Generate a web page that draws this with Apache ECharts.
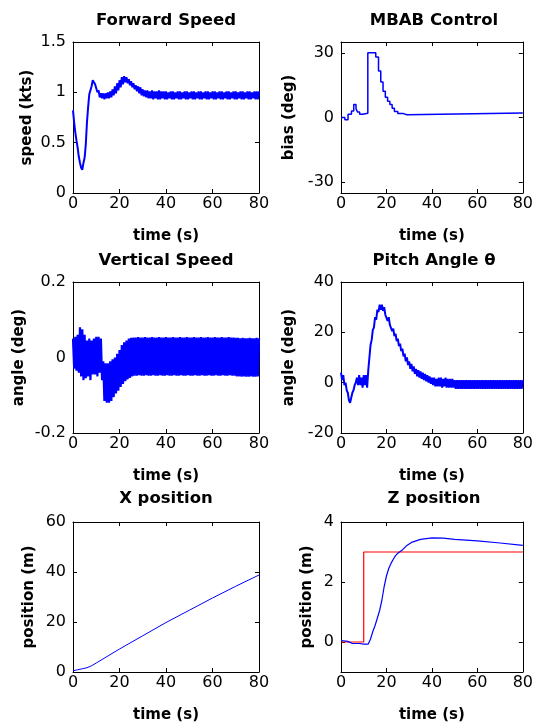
<!DOCTYPE html>
<html><head><meta charset="utf-8">
<script src="https://cdn.jsdelivr.net/npm/echarts@6/dist/echarts.min.js"></script>
<style>html,body{margin:0;padding:0;background:#fff}#c{width:536px;height:725px}</style>
</head><body><div id="c"></div>
<script>
// ---- Data ----
// Oscillating signals: "Hi" sample at t = k s, "Lo" sample at t = k + 0.5 s
const speedHi = [0.82,0.60,0.45,0.30,0.23,0.35,0.70,0.98,1.06,1.13,
 1.08,1.02,0.99,0.99,0.99,1.00,1.01,1.03,1.06,1.09,
 1.12,1.15,1.16,1.15,1.13,1.11,1.09,1.07,1.06,1.05,
 1.03,1.02,1.02,1.01,1.02,1.01,1.01,1.02,1.01,1.01,
 1.01,1.00,1.01,1.01,1.00,1.01,1.01,1.00,1.01,1.01,
 1.00,1.01,1.01,1.00,1.01,1.01,1.00,1.01,1.01,1.00,
 1.01,1.01,1.00,1.01,1.01,1.00,1.01,1.01,1.00,1.01,
 1.01,1.00,1.01,1.01,1.00,1.01,1.01,1.00,1.01,1.01,
 1.01];
const speedLo = [0.70,0.52,0.36,0.25,0.30,0.48,0.85,0.99,1.12,1.08,
 1.00,0.95,0.94,0.93,0.94,0.94,0.95,0.97,0.99,1.02,
 1.05,1.08,1.10,1.09,1.07,1.05,1.03,1.01,0.99,0.97,
 0.96,0.95,0.94,0.94,0.93,0.94,0.93,0.93,0.94,0.93,
 0.93,0.94,0.93,0.93,0.94,0.93,0.93,0.94,0.93,0.93,
 0.94,0.93,0.93,0.94,0.93,0.93,0.94,0.93,0.93,0.94,
 0.93,0.93,0.94,0.93,0.93,0.94,0.93,0.93,0.94,0.93,
 0.93,0.94,0.93,0.93,0.94,0.93,0.93,0.94,0.93,0.93];

const vertHi = [0.050,0.055,0.060,0.080,0.075,0.060,0.045,0.050,0.045,0.050,
 0.055,0.055,0.050,-0.010,-0.015,-0.015,-0.010,-0.005,0.000,0.010,
 0.020,0.033,0.040,0.045,0.050,0.052,0.053,0.053,0.054,0.053,
 0.053,0.054,0.053,0.053,0.054,0.053,0.053,0.054,0.053,0.053,
 0.054,0.053,0.053,0.054,0.053,0.053,0.054,0.053,0.053,0.054,
 0.053,0.053,0.054,0.053,0.053,0.054,0.053,0.053,0.054,0.053,
 0.053,0.054,0.053,0.053,0.054,0.053,0.053,0.054,0.053,0.053,
 0.052,0.052,0.051,0.052,0.051,0.051,0.052,0.051,0.051,0.052,
 0.051];
const vertLo = [-0.030,-0.035,-0.040,-0.050,-0.060,-0.055,-0.050,-0.060,-0.045,-0.045,
 -0.050,-0.040,-0.060,-0.115,-0.120,-0.120,-0.115,-0.105,-0.095,-0.088,
 -0.078,-0.070,-0.063,-0.058,-0.054,-0.050,-0.048,-0.048,-0.047,-0.048,
 -0.048,-0.047,-0.048,-0.048,-0.047,-0.048,-0.048,-0.047,-0.048,-0.048,
 -0.047,-0.048,-0.048,-0.047,-0.048,-0.048,-0.047,-0.048,-0.048,-0.047,
 -0.048,-0.048,-0.047,-0.048,-0.048,-0.047,-0.048,-0.048,-0.047,-0.048,
 -0.048,-0.047,-0.048,-0.048,-0.047,-0.048,-0.048,-0.047,-0.048,-0.048,
 -0.050,-0.050,-0.051,-0.050,-0.051,-0.051,-0.050,-0.051,-0.051,-0.050];

const pitchHi = [4,3,0,-4,-8,-4,-1,2,3,2,
 3,3,5,15,21,26,29,31,31,30,
 27.5,26,23.5,21.5,19.5,17.5,15.5,13.5,11.5,10,
 8.5,7.5,6.5,5.5,5,4.5,4,3.5,3,2.5,
 2,2,1.5,2,2,1.5,2,1.5,1.5,1.5,
 1,1,1,1,1,1,1,1,1,1,
 1,1,1,1,1,1,1,1,1,1,
 1,1,1,1,1,1,1,1,1,1,
 1];
const pitchLo = [1,-1,-3,-7,-6,-3,0,-1,-1,-2,
 -1,-2,10,17,22,25,28,29,28.5,27,
 24.5,23,20.5,18.5,16.5,14.5,12.5,10.5,8.5,7,
 5.5,4.5,3.5,2.5,2,1.5,1,0.5,0,-0.5,
 -1,-1.5,-1.5,-1.5,-2,-1.5,-2,-2,-2,-2,
 -2.5,-2.5,-2.5,-2.5,-2.5,-2.5,-2.5,-2.5,-2.5,-2.5,
 -2.5,-2.5,-2.5,-2.5,-2.5,-2.5,-2.5,-2.5,-2.5,-2.5,
 -2.5,-2.5,-2.5,-2.5,-2.5,-2.5,-2.5,-2.5,-2.5,-2.5];

const mbabT = [0,1.7,3.1,4.6,5.6,6.6,7.3,8.2,9.5,11.8,15.3,16.5,17.5,18.5,19.5,20.5,21.5,22.5,23.5,25,27.5,29,80];
const mbabV = [0,-1,1.5,3,6,4,2.5,1.5,2,30,28,21.5,16.5,12.2,9.4,7.5,6,4.3,2.8,1.8,1.3,2.1,2.1];

const xposT = [0,2,4,6,8,10,20,30,40,50,60,70,80];
const xposV = [0.5,0.9,1.3,1.7,2.5,3.6,9.2,14.5,19.8,24.7,29.6,34.3,38.8];

const zposT = [0,3,5,8,10,12,13,14,15,16,17,18,19,20,21,22,23,24,25,27,29,31,35,40,45,50,60,70,80];
const zposV = [0.05,0.02,-0.05,-0.05,-0.07,-0.07,0.1,0.35,0.55,0.8,1.05,1.4,1.85,2.2,2.45,2.62,2.76,2.88,2.96,3.07,3.22,3.32,3.42,3.47,3.46,3.42,3.37,3.30,3.22];
const zrefT = [0,10,10,80];
const zrefV = [0,0,3,3];

const titles = ['Forward Speed','MBAB Control','Vertical Speed','Pitch Angle \u03b8','X position','Z position'];
const yNames = ['speed (kts)','bias (deg)','angle (deg)','angle (deg)','position (m)','position (m)'];
const xName = 'time (s)';
const yMin = [0,-35,-0.2,-20,0,-1];
const yMax = [1.5,35,0.2,40,60,4];
const yTicks = [[0,0.5,1,1.5],[-30,0,30],[-0.2,0,0.2],[-20,0,20,40],[0,20,40,60],[0,2,4]];

// ---- Layout ----
const FONT = 'DejaVu Sans';
const grids = [
  {left:73, top:42, width:186, height:151},
  {left:341, top:42, width:186, height:151},
  {left:73, top:282, width:186, height:151},
  {left:341, top:282, width:186, height:151},
  {left:73, top:522, width:186, height:150},
  {left:341, top:522, width:186, height:150}
];
const titleTop = [12,12,252,252,490,490];
const yNameGap = [38,44,46,44,36,26];

function zig(hi, lo){ const out=[]; for(let k=0;k<hi.length;k++){ out.push([k, hi[k]]); if(k<lo.length) out.push([k+0.5, lo[k]]); } return out; }
function pairs(t, v){ return t.map((x,i)=>[x, v[i]]); }

const xAxes = [], yAxes = [], titleOpts = [];
grids.forEach((g, i) => {
  const line = {show:true, onZero:false, lineStyle:{color:'#000', width:1}};
  const tick = {show:true, inside:true, length:4, lineStyle:{color:'#000', width:1}};
  xAxes.push({type:'value', gridIndex:i, min:0, max:80, interval:20, position:'bottom',
    axisLine:line, axisTick:tick, splitLine:{show:false},
    axisLabel:{show:true, color:'#000', fontFamily:FONT, fontSize:16, margin:3},
    name:xName, nameLocation:'middle', nameGap:36,
    nameTextStyle:{color:'#000', fontFamily:FONT, fontWeight:'bold', fontSize:15}});
  xAxes.push({type:'value', gridIndex:i, min:0, max:80, interval:20, position:'top',
    axisLine:line, axisTick:tick, splitLine:{show:false}, axisLabel:{show:false}});
  yAxes.push({type:'value', gridIndex:i, min:yMin[i], max:yMax[i], position:'left',
    axisLine:line, axisTick:Object.assign({customValues:yTicks[i]}, tick), splitLine:{show:false},
    axisLabel:{show:true, customValues:yTicks[i], color:'#000', fontFamily:FONT, fontSize:16, margin:7},
    name:yNames[i], nameLocation:'middle', nameGap:yNameGap[i],
    nameTextStyle:{color:'#000', fontFamily:FONT, fontWeight:'bold', fontSize:15}});
  yAxes.push({type:'value', gridIndex:i, min:yMin[i], max:yMax[i], position:'right',
    axisLine:line, axisTick:Object.assign({customValues:yTicks[i]}, tick), splitLine:{show:false},
    axisLabel:{show:false}});
  titleOpts.push({text:titles[i], left:g.left + g.width/2, top:titleTop[i], textAlign:'center', padding:0,
    textStyle:{color:'#000', fontFamily:FONT, fontWeight:'bold', fontSize:16.5}});
});

function lineSeries(i, data, color, width, step){
  const s = {type:'line', xAxisIndex:2*i, yAxisIndex:2*i, data:data, showSymbol:false, symbol:'none',
    lineStyle:{color:color, width:width}, itemStyle:{color:color}, animation:false, silent:true};
  if (step) s.step = step;
  return s;
}

const series = [
  lineSeries(0, zig(speedHi, speedLo), '#0000ff', 2),
  lineSeries(1, pairs(mbabT, mbabV), '#0000ff', 1.5, 'end'),
  lineSeries(2, zig(vertHi, vertLo), '#0000ff', 2.2),
  lineSeries(3, zig(pitchHi, pitchLo), '#0000ff', 2),
  lineSeries(4, pairs(xposT, xposV), '#0000ff', 1),
  lineSeries(5, pairs(zrefT, zrefV), '#ff0000', 1.2),
  lineSeries(5, pairs(zposT, zposV), '#0000ff', 1.2)
];

const chart = echarts.init(document.getElementById('c'), null, {renderer:'canvas'});
chart.setOption({
  backgroundColor:'#fff',
  animation:false,
  title:titleOpts,
  grid:grids,
  xAxis:xAxes,
  yAxis:yAxes,
  series:series
});
</script></body></html>
